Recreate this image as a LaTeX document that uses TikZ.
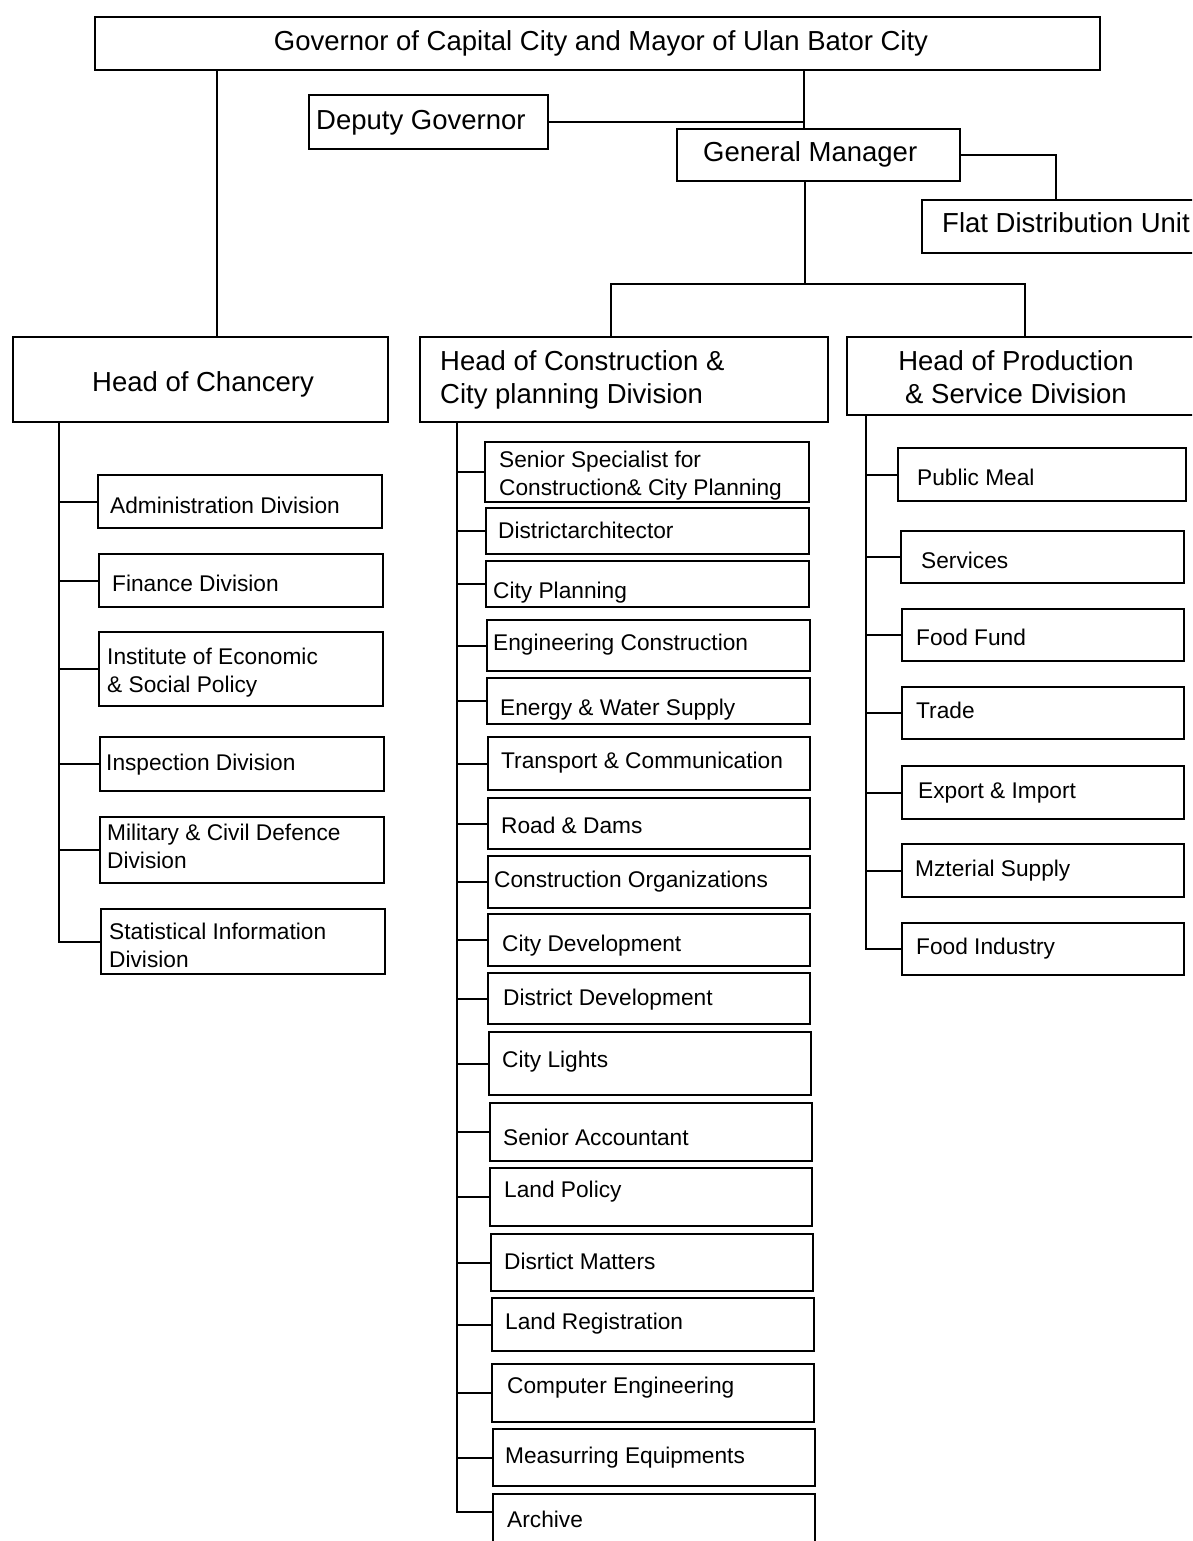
\documentclass[tikz,border=0pt]{standalone}
\usepackage{fontspec}
\setmainfont{Liberation Sans}
\tikzset{
  box/.style={draw, line width=2pt, rectangle, inner sep=0pt, anchor=north west},
  big/.style={font=\fontsize{27.5}{33}\selectfont, inner sep=0pt},
  small/.style={font=\fontsize{22.7}{28}\selectfont, inner sep=0pt},
  link/.style={line width=2pt},
}
% \orgbox{name}{left}{top}{right}{bottom}
\newcommand\orgbox[5]{\node[box, minimum width={#4-#2}, minimum height={#5-#3}] (#1) at (#2,#3) {};}
\begin{document}
\begin{tikzpicture}[x=1pt,y=-1pt]
\useasboundingbox (0,0) rectangle (1192,1541);
\fill[white] (0,0) rectangle (1192,1541);
\clip (0,0) rectangle (1192,1541);

% ---- top level ----
\orgbox{gov}{94}{16}{1099}{69}
\node[big, anchor=base] (gov-t) at (601,51) {Governor of Capital City and Mayor of Ulan Bator City};
\orgbox{deputy}{308}{94}{547}{148}
\node[big, anchor=base west] (deputy-t) at (316,130) {Deputy Governor};
\orgbox{gm}{676}{128}{959}{180}
\node[big, anchor=base west] (gm-t) at (703,162) {General Manager};
\orgbox{flat}{921}{199}{1210}{252}
\node[big, anchor=base west] (flat-t) at (942,233) {Flat Distribution Unit};

% ---- division heads (multi-line labels anchored on their last baseline) ----
\orgbox{chancery}{12}{336}{387}{421}
\node[big, anchor=base west] (chancery-t) at (92,391) {Head of Chancery};
\orgbox{conhead}{419}{336}{827}{421}
\node[big, anchor=base west, align=left] (conhead-t) at (440,403) {Head of Construction \&\\City planning Division};
\orgbox{prodhead}{846}{336}{1210}{414}
\node[big, anchor=base, align=center] (prodhead-t) at (1016,403) {Head of Production\\\& Service Division};

% ---- top connectors ----
\coordinate (c1) at (217,0);
\coordinate (c2) at (804,0);
\coordinate (c3) at (1056,0);
\coordinate (c4) at (611,0);
\coordinate (c5) at (1025,0);
\coordinate (bus) at (805,284);
\draw[link] (gov.south -| c1) -- (chancery.north -| c1);
\draw[link] (gov.south -| c2) -- (gm.north -| c2);
\draw[link] (deputy.east) -- (deputy.east -| c2);
\draw[link] (gm.east) -| (flat.north -| c3);
\draw[link] (gm.south -| bus) -- (bus);
\draw[link] (conhead.north -| c4) |- (bus) -| (prodhead.north -| c5);

% ---- chancery units ----
\orgbox{admin}{97}{474}{381}{527}
\node[small, anchor=base west] (admin-t) at (110,513) {Administration Division};
\orgbox{fin}{98}{553}{382}{606}
\node[small, anchor=base west] (fin-t) at (112,591) {Finance Division};
\orgbox{inst}{98}{631}{382}{705}
\node[small, anchor=base west, align=left] (inst-t) at (107,692) {Institute of Economic\\\& Social Policy};
\orgbox{insp}{99}{736}{383}{790}
\node[small, anchor=base west] (insp-t) at (106,770) {Inspection Division};
\orgbox{mil}{99}{816}{383}{882}
\node[small, anchor=base west, align=left] (mil-t) at (107,868) {Military \& Civil Defence\\Division};
\orgbox{stat}{100}{908}{384}{973}
\node[small, anchor=base west, align=left] (stat-t) at (109,967) {Statistical Information\\Division};

\coordinate (lt) at (59,0);
\draw[link] (chancery.south -| lt) |- (stat.west);
\foreach \n in {admin,fin,inst,insp,mil}
  \draw[link] (lt |- \n.west) -- (\n.west);

% ---- construction & city planning units ----
\orgbox{spec}{484}{441}{808}{501}
\node[small, anchor=base west, align=left] (spec-t) at (499,495) {Senior Specialist for\\Construction\& City Planning};
\orgbox{darch}{485}{507}{808}{553}
\node[small, anchor=base west] (darch-t) at (498,538) {Districtarchitector};
\orgbox{cplan}{485}{560}{808}{606}
\node[small, anchor=base west] (cplan-t) at (493,598) {City Planning};
\orgbox{eng}{486}{619}{809}{670}
\node[small, anchor=base west] (eng-t) at (493,650) {Engineering Construction};
\orgbox{energy}{486}{677}{809}{723}
\node[small, anchor=base west] (energy-t) at (500,715) {Energy \& Water Supply};
\orgbox{trans}{487}{736}{809}{789}
\node[small, anchor=base west] (trans-t) at (501,768) {Transport \& Communication};
\orgbox{road}{487}{797}{809}{848}
\node[small, anchor=base west] (road-t) at (501,833) {Road \& Dams};
\orgbox{corg}{487}{855}{809}{907}
\node[small, anchor=base west] (corg-t) at (494,887) {Construction Organizations};
\orgbox{cdev}{487}{913}{809}{965}
\node[small, anchor=base west] (cdev-t) at (502,951) {City Development};
\orgbox{ddev}{487}{972}{809}{1023}
\node[small, anchor=base west] (ddev-t) at (503,1005) {District Development};
\orgbox{lights}{488}{1031}{810}{1094}
\node[small, anchor=base west] (lights-t) at (502,1067) {City Lights};
\orgbox{acct}{489}{1102}{811}{1160}
\node[small, anchor=base west] (acct-t) at (503,1145) {Senior Accountant};
\orgbox{lpol}{489}{1167}{811}{1225}
\node[small, anchor=base west] (lpol-t) at (504,1197) {Land Policy};
\orgbox{dmat}{490}{1233}{812}{1290}
\node[small, anchor=base west] (dmat-t) at (504,1269) {Disrtict Matters};
\orgbox{lreg}{491}{1297}{813}{1350}
\node[small, anchor=base west] (lreg-t) at (505,1329) {Land Registration};
\orgbox{comp}{491}{1363}{813}{1421}
\node[small, anchor=base west] (comp-t) at (507,1393) {Computer Engineering};
\orgbox{meas}{492}{1428}{814}{1485}
\node[small, anchor=base west] (meas-t) at (505,1463) {Measurring Equipments};
\orgbox{arch}{492}{1493}{814}{1560}
\node[small, anchor=base west] (arch-t) at (507,1527) {Archive};

\coordinate (mt) at (457,0);
\draw[link] (conhead.south -| mt) |- ([yshift=-19pt]arch.north west);
\foreach \n in {spec,darch,cplan,eng,energy,trans,road,corg,cdev,ddev,lights,acct,lpol,dmat,lreg,comp,meas}
  \draw[link] (mt |- \n.west) -- (\n.west);

% ---- production & service units ----
\orgbox{meal}{897}{447}{1185}{500}
\node[small, anchor=base west] (meal-t) at (917,485) {Public Meal};
\orgbox{serv}{900}{530}{1183}{582}
\node[small, anchor=base west] (serv-t) at (921,568) {Services};
\orgbox{ffund}{901}{608}{1183}{660}
\node[small, anchor=base west] (ffund-t) at (916,645) {Food Fund};
\orgbox{trade}{901}{686}{1183}{738}
\node[small, anchor=base west] (trade-t) at (916,718) {Trade};
\orgbox{exim}{901}{765}{1183}{818}
\node[small, anchor=base west] (exim-t) at (918,798) {Export \& Import};
\orgbox{mat}{901}{843}{1183}{896}
\node[small, anchor=base west] (mat-t) at (915,876) {Mzterial Supply};
\orgbox{findus}{901}{922}{1183}{974}
\node[small, anchor=base west] (findus-t) at (916,954) {Food Industry};

\coordinate (rt) at (866,0);
\draw[link] (prodhead.south -| rt) |- (findus.west);
\foreach \n in {meal,serv,ffund,trade,exim,mat}
  \draw[link] (rt |- \n.west) -- (\n.west);
\end{tikzpicture}
\end{document}
